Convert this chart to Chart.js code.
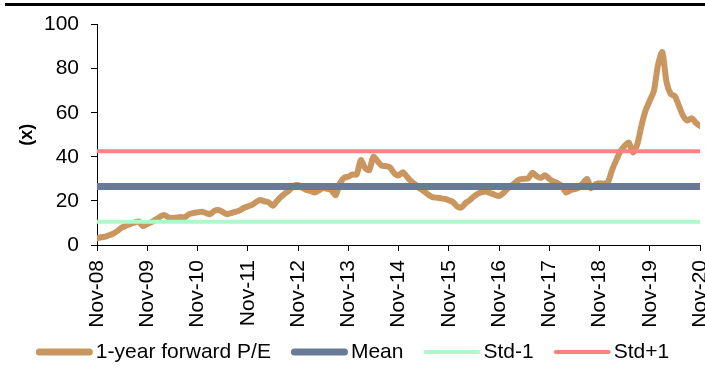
<!DOCTYPE html>
<html>
<head>
<meta charset="utf-8">
<script src="https://cdn.jsdelivr.net/npm/chart.js@4.4.1/dist/chart.umd.min.js"></script>
<style>
  html, body { margin: 0; padding: 0; background: #fff; }
  #wrap { width: 705px; height: 371px; position: relative; }
</style>
</head>
<body>
<div id="wrap"><canvas id="pe"></canvas></div>
<script>
// Year ticks along the time axis (one every 12 months)
const yearTicks = ['Nov-08','Nov-09','Nov-10','Nov-11','Nov-12','Nov-13','Nov-14',
                   'Nov-15','Nov-16','Nov-17','Nov-18','Nov-19','Nov-20'];

// Monthly 1-year forward P/E, Nov-08 .. Nov-20
const forwardPE = [
  3.0, 3.5, 3.8, 4.5, 5.3, 6.5, 8.0, 8.8, 9.6, 10.2, 10.6, 8.6,
  9.5, 10.4, 11.5, 12.8, 13.6, 12.6, 12.2, 12.5, 12.7, 12.6, 14.0, 14.5,
  14.8, 15.1, 14.5, 14.0, 15.5, 15.9, 15.0, 14.0, 14.5, 15.0, 15.6, 16.8,
  17.5, 18.2, 19.5, 20.4, 19.8, 19.3, 17.8, 20.0, 22.0, 23.5, 25.0, 26.8,
  27.2, 26.0, 25.0, 24.5, 23.8, 24.8, 25.8, 25.5, 24.8, 22.6, 28.0, 30.5,
  31.0, 32.0, 32.0, 38.5, 35.0, 34.0, 40.0, 38.0, 36.0, 35.8, 35.2, 32.5,
  31.5, 33.0, 31.0, 29.0, 27.5, 25.8, 24.5, 23.0, 21.8, 21.5, 21.2, 21.0,
  20.3, 19.5, 17.5, 17.0, 19.0, 20.3, 22.0, 23.3, 24.0, 24.2, 23.5, 22.8,
  22.2, 23.5, 25.5, 26.8, 28.5, 29.8, 30.0, 30.3, 32.8, 31.2, 30.5, 31.7,
  30.0, 28.8, 28.0, 26.8, 23.8, 24.8, 25.3, 26.0, 28.0, 30.0, 25.8, 27.5,
  28.0, 27.8, 28.5, 34.0, 38.5, 42.5, 45.0, 46.5, 42.0, 45.5, 54.0, 61.0,
  65.5, 70.0, 82.0, 87.5, 74.0, 68.5, 67.5, 63.0, 58.5, 56.5, 57.5, 55.5,
  54.0
];

// Reference levels
const meanLevel = 26.5;
const stdMinusLevel = 10.5;
const stdPlusLevel = 42.5;

// Series names
const seriesNames = ['1-year forward P/E', 'Mean', 'Std-1', 'Std+1'];

const lastMonth = forwardPE.length - 1;
const flat = (v) => [{ x: 0, y: v }, { x: lastMonth, y: v }];
const FONT = "'Liberation Sans', Arial, sans-serif";

// Horizontal rule across the top of the figure
const topRule = {
  id: 'topRule',
  afterDraw(chart) {
    const ctx = chart.ctx;
    ctx.save();
    ctx.strokeStyle = '#000';
    ctx.lineWidth = 3;
    ctx.beginPath();
    ctx.moveTo(5, 4.5);
    ctx.lineTo(chart.width, 4.5);
    ctx.stroke();
    ctx.restore();
  }
};

// Line-sample legend centred under the axis labels
const lineLegend = {
  id: 'lineLegend',
  afterDraw(chart) {
    const ctx = chart.ctx;
    const sampleW = 57, gap = 3, spacing = 20, cy = 352;
    ctx.save();
    ctx.font = '21px ' + FONT;
    const items = chart.data.datasets.map(ds => ({
      ds, w: sampleW + gap + ctx.measureText(ds.label).width
    }));
    const total = items.reduce((s, it) => s + it.w, 0) + spacing * (items.length - 1);
    let x = (chart.width - total) / 2;
    items.forEach(({ ds, w }) => {
      const lw = ds.legendLineWidth;
      ctx.strokeStyle = ds.borderColor;
      ctx.lineWidth = lw;
      ctx.lineCap = 'round';
      ctx.beginPath();
      ctx.moveTo(x + lw / 2, cy);
      ctx.lineTo(x + sampleW - lw / 2, cy);
      ctx.stroke();
      ctx.fillStyle = '#000';
      ctx.textAlign = 'left';
      ctx.textBaseline = 'middle';
      ctx.fillText(ds.label, x + sampleW + gap, cy);
      x += w + spacing;
    });
    ctx.restore();
  }
};

new Chart(document.getElementById('pe'), {
  type: 'line',
  data: {
    datasets: [
      {
        label: seriesNames[0],
        data: forwardPE.map((v, i) => ({ x: i, y: v })),
        borderColor: '#C9965F',
        borderWidth: 6,
        legendLineWidth: 7,
        tension: 0.25,
        borderCapStyle: 'round',
        borderJoinStyle: 'round',
        pointRadius: 0,
        order: 1
      },
      {
        label: seriesNames[1],
        data: flat(meanLevel),
        borderColor: '#687A96',
        borderWidth: 7,
        legendLineWidth: 7,
        borderCapStyle: 'round',
        pointRadius: 0,
        order: 0
      },
      {
        label: seriesNames[2],
        data: flat(stdMinusLevel),
        borderColor: '#AEF9CC',
        borderWidth: 4,
        legendLineWidth: 4,
        borderCapStyle: 'round',
        pointRadius: 0,
        order: 0
      },
      {
        label: seriesNames[3],
        data: flat(stdPlusLevel),
        borderColor: '#FF8282',
        borderWidth: 4,
        legendLineWidth: 4,
        borderCapStyle: 'round',
        pointRadius: 0,
        order: 0
      }
    ]
  },
  options: {
    responsive: true,
    maintainAspectRatio: false,
    animation: false,
    layout: { padding: { top: 19, right: 5, bottom: 41, left: 0 } },
    plugins: {
      legend: { display: false },
      tooltip: { enabled: false }
    },
    scales: {
      x: {
        type: 'linear',
        min: 0,
        max: lastMonth,
        grid: { drawOnChartArea: false, drawTicks: true, tickLength: 6, color: '#000' },
        border: { display: true, color: '#000', width: 1 },
        ticks: {
          stepSize: 12,
          autoSkip: false,
          minRotation: 90,
          maxRotation: 90,
          padding: 9,
          color: '#000',
          font: { family: FONT, size: 21 },
          callback: (v) => yearTicks[Math.round(v / 12)]
        },
        afterFit(scale) {
          scale.height = 85;
          scale.paddingLeft = 0;
          scale.paddingRight = 0;
        }
      },
      y: {
        min: 0,
        max: 100,
        grid: { drawOnChartArea: false, drawTicks: true, tickLength: 6, color: '#000' },
        border: { display: true, color: '#000', width: 1 },
        ticks: {
          stepSize: 20,
          padding: 12,
          color: '#000',
          font: { family: FONT, size: 21 }
        },
        title: {
          display: true,
          text: '(x)',
          color: '#000',
          padding: { top: 16, bottom: 0 },
          font: { family: FONT, size: 18, weight: 'bold' }
        },
        afterFit(scale) {
          scale.width = 97;
        }
      }
    }
  },
  plugins: [topRule, lineLegend]
});
</script>
</body>
</html>
